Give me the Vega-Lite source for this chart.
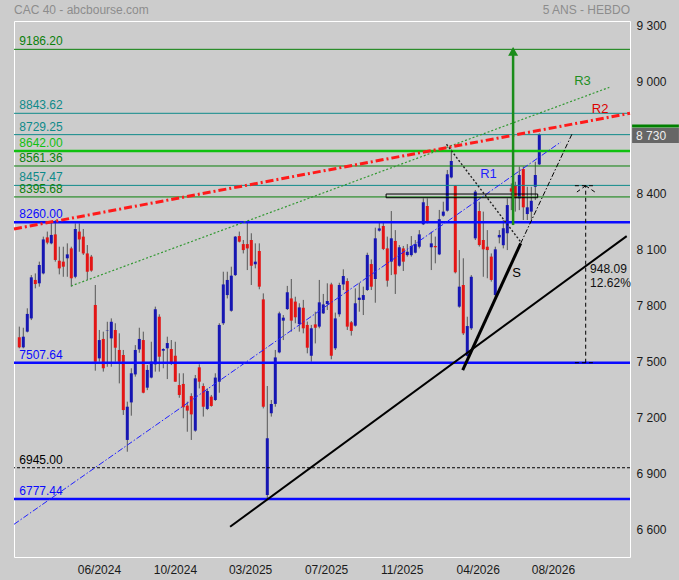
{
"$schema":"https://vega.github.io/schema/vega-lite/v6.json",
"width":616,"height":536,
"autosize":{"type":"none"},
"padding":{"left":14,"top":21,"right":49,"bottom":23},
"background":"#cccccc",
"config":{"view":{"stroke":"#ffffff","strokeWidth":1,"fill":"#cccccc"},"font":"Liberation Sans","text":{"font":"Liberation Sans"},
"scale":{"continuousPadding":0},
"axis":{"grid":false,"ticks":false,"domain":false,"labelFont":"Liberation Sans","labelFontSize":12,"labelColor":"#1a1a1a"}},
"resolve":{"scale":{"color":"independent"}},
"datasets":{
"candles":[
{"i":0,"o":7644,"h":7701,"l":7585,"c":7590},{"i":1,"o":7590,"h":7695,"l":7585,"c":7647},{"i":2,"o":7674,"h":7799,"l":7670,"c":7769},{"i":3,"o":7745,"h":7977,"l":7736,"c":7965},{"i":4,"o":7951,"h":7986,"l":7906,"c":7929},{"i":5,"o":7933,"h":8049,"l":7915,"c":8031},{"i":6,"o":7986,"h":8183,"l":7981,"c":8168},{"i":7,"o":8179,"h":8210,"l":8142,"c":8151},{"i":8,"o":8147,"h":8260,"l":8142,"c":8192},{"i":9,"o":8195,"h":8272,"l":8049,"c":8058},
{"i":10,"o":8054,"h":8129,"l":7981,"c":8013},{"i":11,"o":8049,"h":8129,"l":7968,"c":8022},{"i":12,"o":8067,"h":8147,"l":7968,"c":8088},{"i":13,"o":8120,"h":8129,"l":7915,"c":7960},{"i":14,"o":7968,"h":8254,"l":7960,"c":8224},{"i":15,"o":8210,"h":8254,"l":8102,"c":8168},{"i":16,"o":8183,"h":8224,"l":8085,"c":8093},{"i":17,"o":8093,"h":8138,"l":7951,"c":7995},{"i":18,"o":8076,"h":8085,"l":7995,"c":8001},{"i":19,"o":7817,"h":7924,"l":7465,"c":7513},
{"i":20,"o":7531,"h":7683,"l":7513,"c":7629},{"i":21,"o":7635,"h":7674,"l":7460,"c":7478},{"i":22,"o":7679,"h":7727,"l":7486,"c":7681},{"i":23,"o":7638,"h":7745,"l":7486,"c":7727},{"i":24,"o":7683,"h":7719,"l":7513,"c":7588},{"i":25,"o":7576,"h":7665,"l":7397,"c":7513},{"i":26,"o":7549,"h":7576,"l":7228,"c":7254},{"i":27,"o":7094,"h":7299,"l":7031,"c":7272},{"i":28,"o":7295,"h":7478,"l":7224,"c":7451},{"i":29,"o":7445,"h":7602,"l":7433,"c":7576},
{"i":30,"o":7579,"h":7695,"l":7561,"c":7635},{"i":31,"o":7629,"h":7674,"l":7344,"c":7347},{"i":32,"o":7374,"h":7495,"l":7361,"c":7469},{"i":33,"o":7428,"h":7620,"l":7424,"c":7513},{"i":34,"o":7499,"h":7808,"l":7460,"c":7794},{"i":35,"o":7754,"h":7767,"l":7460,"c":7540},{"i":36,"o":7572,"h":7585,"l":7478,"c":7581},{"i":37,"o":7585,"h":7647,"l":7420,"c":7613},{"i":38,"o":7581,"h":7629,"l":7495,"c":7504},{"i":39,"o":7545,"h":7620,"l":7406,"c":7406},
{"i":40,"o":7388,"h":7451,"l":7320,"c":7335},{"i":41,"o":7394,"h":7451,"l":7210,"c":7269},{"i":42,"o":7278,"h":7299,"l":7138,"c":7251},{"i":43,"o":7329,"h":7344,"l":7094,"c":7231},{"i":44,"o":7144,"h":7442,"l":7138,"c":7424},{"i":45,"o":7483,"h":7499,"l":7370,"c":7406},{"i":46,"o":7383,"h":7397,"l":7219,"c":7272},{"i":47,"o":7260,"h":7370,"l":7254,"c":7356},{"i":48,"o":7326,"h":7335,"l":7272,"c":7276},{"i":49,"o":7308,"h":7451,"l":7303,"c":7428},
{"i":50,"o":7406,"h":7719,"l":7347,"c":7710},{"i":51,"o":7719,"h":7995,"l":7710,"c":7927},{"i":52,"o":7870,"h":7995,"l":7852,"c":7951},{"i":53,"o":7786,"h":8022,"l":7781,"c":7974},{"i":54,"o":7977,"h":8186,"l":7972,"c":8183},{"i":55,"o":8186,"h":8210,"l":8152,"c":8156},{"i":56,"o":8143,"h":8165,"l":8093,"c":8111},{"i":57,"o":8143,"h":8263,"l":8004,"c":8120},{"i":58,"o":8165,"h":8201,"l":7924,"c":8027},{"i":59,"o":8035,"h":8147,"l":8013,"c":8049},
{"i":60,"o":8106,"h":8147,"l":7901,"c":7915},{"i":61,"o":7847,"h":7879,"l":7263,"c":7272},{"i":62,"o":6799,"h":7383,"l":6780,"c":7103},{"i":63,"o":7237,"h":7308,"l":7219,"c":7287},{"i":64,"o":7287,"h":7576,"l":7272,"c":7536},{"i":65,"o":7563,"h":7781,"l":7558,"c":7772},{"i":66,"o":7733,"h":7763,"l":7629,"c":7749},{"i":67,"o":7795,"h":7919,"l":7790,"c":7885},{"i":68,"o":7852,"h":7956,"l":7674,"c":7733},{"i":69,"o":7835,"h":7861,"l":7719,"c":7751},
{"i":70,"o":7715,"h":7826,"l":7674,"c":7804},{"i":71,"o":7802,"h":7844,"l":7665,"c":7692},{"i":72,"o":7710,"h":7728,"l":7558,"c":7588},{"i":73,"o":7545,"h":7710,"l":7513,"c":7692},{"i":74,"o":7713,"h":7781,"l":7611,"c":7695},{"i":75,"o":7701,"h":7951,"l":7692,"c":7831},{"i":76,"o":7772,"h":7876,"l":7769,"c":7820},{"i":77,"o":7822,"h":7933,"l":7790,"c":7838},{"i":78,"o":7927,"h":7936,"l":7526,"c":7545},{"i":79,"o":7585,"h":7776,"l":7576,"c":7745},
{"i":80,"o":7767,"h":7936,"l":7754,"c":7924},{"i":81,"o":7927,"h":8008,"l":7897,"c":7972},{"i":82,"o":7945,"h":7960,"l":7683,"c":7701},{"i":83,"o":7724,"h":7731,"l":7653,"c":7678},{"i":84,"o":7706,"h":7906,"l":7701,"c":7826},{"i":85,"o":7844,"h":7936,"l":7781,"c":7856},{"i":86,"o":7844,"h":7915,"l":7763,"c":7870},{"i":87,"o":7897,"h":8097,"l":7892,"c":8085},{"i":88,"o":8036,"h":8061,"l":7897,"c":7915},{"i":89,"o":7956,"h":8231,"l":7829,"c":8174},
{"i":90,"o":8215,"h":8263,"l":8210,"c":8227},{"i":91,"o":8240,"h":8263,"l":8111,"c":8117},{"i":92,"o":8120,"h":8183,"l":7915,"c":7947},{"i":93,"o":8049,"h":8320,"l":7977,"c":8174},{"i":94,"o":8160,"h":8218,"l":7876,"c":7981},{"i":95,"o":8027,"h":8138,"l":8022,"c":8126},{"i":96,"o":8120,"h":8133,"l":7999,"c":8049},{"i":97,"o":8084,"h":8143,"l":8076,"c":8102},{"i":98,"o":8084,"h":8186,"l":8076,"c":8133},{"i":99,"o":8097,"h":8165,"l":8093,"c":8143},
{"i":100,"o":8129,"h":8218,"l":8120,"c":8195},{"i":101,"o":8249,"h":8388,"l":8245,"c":8367},{"i":102,"o":8347,"h":8388,"l":8254,"c":8267},{"i":103,"o":8126,"h":8209,"l":8004,"c":8147},{"i":104,"o":8133,"h":8183,"l":8040,"c":8126},{"i":105,"o":8088,"h":8326,"l":8084,"c":8276},{"i":106,"o":8295,"h":8370,"l":8290,"c":8317},{"i":107,"o":8322,"h":8540,"l":8317,"c":8517},{"i":108,"o":8500,"h":8650,"l":8495,"c":8588},{"i":109,"o":8456,"h":8459,"l":7986,"c":7992},
{"i":110,"o":7808,"h":8111,"l":7802,"c":7915},{"i":111,"o":7924,"h":8067,"l":7656,"c":7665},{"i":112,"o":7544,"h":7754,"l":7540,"c":7704},{"i":113,"o":7692,"h":7977,"l":7683,"c":7968},{"i":114,"o":8174,"h":8433,"l":8165,"c":8424},{"i":115,"o":8320,"h":8370,"l":8130,"c":8138},{"i":116,"o":8165,"h":8317,"l":7968,"c":8115},{"i":117,"o":8129,"h":8218,"l":7960,"c":8111},{"i":118,"o":8076,"h":8093,"l":7942,"c":7951},{"i":119,"o":7870,"h":8129,"l":7861,"c":8115},
{"i":120,"o":8179,"h":8218,"l":8147,"c":8192},{"i":121,"o":8137,"h":8272,"l":8120,"c":8228},{"i":122,"o":8201,"h":8388,"l":8111,"c":8352},{"i":123,"o":8442,"h":8468,"l":8325,"c":8424},{"i":124,"o":8459,"h":8477,"l":8317,"c":8389},{"i":125,"o":8388,"h":8558,"l":8325,"c":8513},{"i":126,"o":8545,"h":8558,"l":8272,"c":8340},{"i":127,"o":8304,"h":8450,"l":8272,"c":8340},{"i":128,"o":8317,"h":8450,"l":8272,"c":8375},{"i":129,"o":8450,"h":8584,"l":8379,"c":8513},
{"i":130,"o":8570,"h":8736,"l":8567,"c":8730}
],
"levels":[
{"v":9186.2,"label":"9186.20","kind":"g"},{"v":8843.62,"label":"8843.62","kind":"t"},{"v":8729.25,"label":"8729.25","kind":"t"},{"v":8642,"label":"8642.00","kind":"lg"},{"v":8561.36,"label":"8561.36","kind":"g"},{"v":8457.47,"label":"8457.47","kind":"t"},{"v":8395.68,"label":"8395.68","kind":"g"},{"v":8260,"label":"8260.00","kind":"b"},{"v":7507.64,"label":"7507.64","kind":"b"},{"v":6945,"label":"6945.00","kind":"k"},{"v":6777.44,"label":"6777.44","kind":"b"}
],
"trends":[
{"name":"R2","i":-1.325,"v":8224,"i2":152.675,"v2":8843.6},
{"name":"R3","i":12.93,"v":7918.5,"i2":147.5,"v2":8982.7},
{"name":"R1","i":-1.325,"v":6642,"i2":135.4,"v2":8690},
{"name":"S","i":110.85,"v":7468.5,"i2":125.35,"v2":8147},
{"name":"LT","i":52.7,"v":6629,"i2":151.85,"v2":8186},
{"name":"DD","i":125.35,"v":8147,"i2":138.25,"v2":8736},
{"name":"DT","i":106.8,"v":8678,"i2":125.55,"v2":8149}
],
"measure":[
{"i":141.6,"v":7507.64,"i2":141.6,"v2":8455.73},
{"i":138.9,"v":8455.73,"i2":143.9,"v2":8455.73},
{"i":138.9,"v":7507.64,"i2":143.9,"v2":7507.64},
{"i":141.6,"v":8455.73,"i2":139.4,"v2":8422},
{"i":141.6,"v":8455.73,"i2":143.9,"v2":8422}
],
"mtext":[{"i":142.7,"v":8012,"t":"948.09"},{"i":142.7,"v":7934,"t":"12.62%"}],
"tlabels":[{"name":"R1","i":117.3,"v":8518},{"name":"R2","i":145.2,"v":8866},{"name":"R3","i":140.8,"v":9014},{"name":"S","i":124.3,"v":7988}],
"arrow":[{"i":123.45,"v":8245,"v2":9175}],
"box":[{"i":91.7,"i2":129.6,"v":8391.4,"v2":8411.2}],
"last":[{"i":153.2,"i2":164.9,"v":8684.4,"v2":8764.7,"g":8767,"g2":8783.5,"ti":154.2,"tv":8724,"t":"8 730"}],
"heads":[{"i":-1.325,"v":9338,"t":"CAC 40 - abcbourse.com","a":"l"},{"i":152.675,"v":9338,"t":"5 ANS - HEBDO","a":"r"}]
},
"layer":[
{"data":{"name":"candles"},"mark":{"type":"rule","color":"#555555","strokeWidth":1},
"encoding":{
"x":{"field":"i","type":"quantitative","title":null,"scale":{"domain":[-1.325,152.675],"nice":false,"zero":false,"padding":0},"axis":{"orient":"bottom","title":null,"values":[19.9,38.9,57.7,76.7,95.6,114.6,133.4],"labelExpr":"['06/2024','10/2024','03/2025','07/2025','11/2025','04/2026','08/2026'][round((datum.value-19.9)/18.92)]","labelPadding":7,"labelFlush":false}},
"y":{"field":"l","type":"quantitative","title":null,"scale":{"domain":[6467,9338],"nice":false,"zero":false,"padding":0},"axis":{"orient":"right","title":null,"values":[6600,6900,7200,7500,7800,8100,8400,9000,9300],"labelExpr":"replace(format(datum.value, ','), ',', ' ')","labelPadding":6,"labelOffset":-2.5}},
"y2":{"field":"h"}}},
{"data":{"name":"candles"},"mark":{"type":"bar","size":3},
"encoding":{
"x":{"field":"i","type":"quantitative","title":null,"scale":{"domain":[-1.325,152.675],"nice":false,"zero":false,"padding":0},"axis":{"orient":"bottom","title":null,"values":[19.9,38.9,57.7,76.7,95.6,114.6,133.4],"labelExpr":"['06/2024','10/2024','03/2025','07/2025','11/2025','04/2026','08/2026'][round((datum.value-19.9)/18.92)]","labelPadding":7,"labelFlush":false}},
"y":{"field":"o","type":"quantitative","title":null,"scale":{"domain":[6467,9338],"nice":false,"zero":false,"padding":0},"axis":{"orient":"right","title":null,"values":[6600,6900,7200,7500,7800,8100,8400,9000,9300],"labelExpr":"replace(format(datum.value, ','), ',', ' ')","labelPadding":6,"labelOffset":-2.5}},
"y2":{"field":"c"},
"color":{"condition":{"test":"datum.c >= datum.o","value":"#1616b2"},"value":"#e31515"}}},
{"data":{"name":"levels"},"transform":[{"filter":"datum.kind == 'g' || datum.kind == 't'"}],"mark":{"type":"rule","strokeWidth":1},
"encoding":{"y":{"field":"v","type":"quantitative","title":null,"scale":{"domain":[6467,9338],"nice":false,"zero":false,"padding":0},"axis":{"orient":"right","title":null,"values":[6600,6900,7200,7500,7800,8100,8400,9000,9300],"labelExpr":"replace(format(datum.value, ','), ',', ' ')","labelPadding":6,"labelOffset":-2.5}},
"color":{"field":"kind","type":"nominal","scale":{"domain":["g","t","lg","b","k"],"range":["#0a800a","#0e8a8a","#10c010","#0a0aff","#000000"]},"legend":null}}},
{"data":{"name":"levels"},"transform":[{"filter":"datum.kind == 'lg' || datum.kind == 'b'"}],"mark":{"type":"rule","strokeWidth":2.5},
"encoding":{"y":{"field":"v","type":"quantitative","title":null,"scale":{"domain":[6467,9338],"nice":false,"zero":false,"padding":0},"axis":{"orient":"right","title":null,"values":[6600,6900,7200,7500,7800,8100,8400,9000,9300],"labelExpr":"replace(format(datum.value, ','), ',', ' ')","labelPadding":6,"labelOffset":-2.5}},
"color":{"field":"kind","type":"nominal","scale":{"domain":["g","t","lg","b","k"],"range":["#0a800a","#0e8a8a","#10c010","#0a0aff","#000000"]},"legend":null}}},
{"data":{"name":"levels"},"transform":[{"filter":"datum.kind == 'k'"}],"mark":{"type":"rule","strokeWidth":1,"strokeDash":[3,2],"color":"#000000"},
"encoding":{"y":{"field":"v","type":"quantitative","title":null,"scale":{"domain":[6467,9338],"nice":false,"zero":false,"padding":0},"axis":{"orient":"right","title":null,"values":[6600,6900,7200,7500,7800,8100,8400,9000,9300],"labelExpr":"replace(format(datum.value, ','), ',', ' ')","labelPadding":6,"labelOffset":-2.5}}}},
{"data":{"name":"trends"},"transform":[{"filter":"datum.name == 'R3'"}],"mark":{"type":"rule","strokeWidth":1.2,"strokeDash":[2,2],"color":"#339933"},
"encoding":{"x":{"field":"i","type":"quantitative","title":null,"scale":{"domain":[-1.325,152.675],"nice":false,"zero":false,"padding":0},"axis":{"orient":"bottom","title":null,"values":[19.9,38.9,57.7,76.7,95.6,114.6,133.4],"labelExpr":"['06/2024','10/2024','03/2025','07/2025','11/2025','04/2026','08/2026'][round((datum.value-19.9)/18.92)]","labelPadding":7,"labelFlush":false}},"y":{"field":"v","type":"quantitative","title":null,"scale":{"domain":[6467,9338],"nice":false,"zero":false,"padding":0},"axis":{"orient":"right","title":null,"values":[6600,6900,7200,7500,7800,8100,8400,9000,9300],"labelExpr":"replace(format(datum.value, ','), ',', ' ')","labelPadding":6,"labelOffset":-2.5}},"x2":{"field":"i2"},"y2":{"field":"v2"}}},
{"data":{"name":"trends"},"transform":[{"filter":"datum.name == 'R1'"}],"mark":{"type":"rule","strokeWidth":1,"strokeDash":[6,2,1.5,2],"color":"#2020ff"},
"encoding":{"x":{"field":"i","type":"quantitative","title":null,"scale":{"domain":[-1.325,152.675],"nice":false,"zero":false,"padding":0},"axis":{"orient":"bottom","title":null,"values":[19.9,38.9,57.7,76.7,95.6,114.6,133.4],"labelExpr":"['06/2024','10/2024','03/2025','07/2025','11/2025','04/2026','08/2026'][round((datum.value-19.9)/18.92)]","labelPadding":7,"labelFlush":false}},"y":{"field":"v","type":"quantitative","title":null,"scale":{"domain":[6467,9338],"nice":false,"zero":false,"padding":0},"axis":{"orient":"right","title":null,"values":[6600,6900,7200,7500,7800,8100,8400,9000,9300],"labelExpr":"replace(format(datum.value, ','), ',', ' ')","labelPadding":6,"labelOffset":-2.5}},"x2":{"field":"i2"},"y2":{"field":"v2"}}},
{"data":{"name":"trends"},"transform":[{"filter":"datum.name == 'R2'"}],"mark":{"type":"rule","strokeWidth":3,"strokeDash":[8,3,2,3],"color":"#ff1a1a"},
"encoding":{"x":{"field":"i","type":"quantitative","title":null,"scale":{"domain":[-1.325,152.675],"nice":false,"zero":false,"padding":0},"axis":{"orient":"bottom","title":null,"values":[19.9,38.9,57.7,76.7,95.6,114.6,133.4],"labelExpr":"['06/2024','10/2024','03/2025','07/2025','11/2025','04/2026','08/2026'][round((datum.value-19.9)/18.92)]","labelPadding":7,"labelFlush":false}},"y":{"field":"v","type":"quantitative","title":null,"scale":{"domain":[6467,9338],"nice":false,"zero":false,"padding":0},"axis":{"orient":"right","title":null,"values":[6600,6900,7200,7500,7800,8100,8400,9000,9300],"labelExpr":"replace(format(datum.value, ','), ',', ' ')","labelPadding":6,"labelOffset":-2.5}},"x2":{"field":"i2"},"y2":{"field":"v2"}}},
{"data":{"name":"trends"},"transform":[{"filter":"datum.name == 'S'"}],"mark":{"type":"rule","strokeWidth":3,"color":"#000000"},
"encoding":{"x":{"field":"i","type":"quantitative","title":null,"scale":{"domain":[-1.325,152.675],"nice":false,"zero":false,"padding":0},"axis":{"orient":"bottom","title":null,"values":[19.9,38.9,57.7,76.7,95.6,114.6,133.4],"labelExpr":"['06/2024','10/2024','03/2025','07/2025','11/2025','04/2026','08/2026'][round((datum.value-19.9)/18.92)]","labelPadding":7,"labelFlush":false}},"y":{"field":"v","type":"quantitative","title":null,"scale":{"domain":[6467,9338],"nice":false,"zero":false,"padding":0},"axis":{"orient":"right","title":null,"values":[6600,6900,7200,7500,7800,8100,8400,9000,9300],"labelExpr":"replace(format(datum.value, ','), ',', ' ')","labelPadding":6,"labelOffset":-2.5}},"x2":{"field":"i2"},"y2":{"field":"v2"}}},
{"data":{"name":"trends"},"transform":[{"filter":"datum.name == 'LT'"}],"mark":{"type":"rule","strokeWidth":2,"color":"#000000"},
"encoding":{"x":{"field":"i","type":"quantitative","title":null,"scale":{"domain":[-1.325,152.675],"nice":false,"zero":false,"padding":0},"axis":{"orient":"bottom","title":null,"values":[19.9,38.9,57.7,76.7,95.6,114.6,133.4],"labelExpr":"['06/2024','10/2024','03/2025','07/2025','11/2025','04/2026','08/2026'][round((datum.value-19.9)/18.92)]","labelPadding":7,"labelFlush":false}},"y":{"field":"v","type":"quantitative","title":null,"scale":{"domain":[6467,9338],"nice":false,"zero":false,"padding":0},"axis":{"orient":"right","title":null,"values":[6600,6900,7200,7500,7800,8100,8400,9000,9300],"labelExpr":"replace(format(datum.value, ','), ',', ' ')","labelPadding":6,"labelOffset":-2.5}},"x2":{"field":"i2"},"y2":{"field":"v2"}}},
{"data":{"name":"trends"},"transform":[{"filter":"datum.name == 'DD'"}],"mark":{"type":"rule","strokeWidth":1,"strokeDash":[5,2,1.5,2],"color":"#000000"},
"encoding":{"x":{"field":"i","type":"quantitative","title":null,"scale":{"domain":[-1.325,152.675],"nice":false,"zero":false,"padding":0},"axis":{"orient":"bottom","title":null,"values":[19.9,38.9,57.7,76.7,95.6,114.6,133.4],"labelExpr":"['06/2024','10/2024','03/2025','07/2025','11/2025','04/2026','08/2026'][round((datum.value-19.9)/18.92)]","labelPadding":7,"labelFlush":false}},"y":{"field":"v","type":"quantitative","title":null,"scale":{"domain":[6467,9338],"nice":false,"zero":false,"padding":0},"axis":{"orient":"right","title":null,"values":[6600,6900,7200,7500,7800,8100,8400,9000,9300],"labelExpr":"replace(format(datum.value, ','), ',', ' ')","labelPadding":6,"labelOffset":-2.5}},"x2":{"field":"i2"},"y2":{"field":"v2"}}},
{"data":{"name":"trends"},"transform":[{"filter":"datum.name == 'DT'"}],"mark":{"type":"rule","strokeWidth":1.4,"strokeDash":[2,2],"color":"#222222"},
"encoding":{"x":{"field":"i","type":"quantitative","title":null,"scale":{"domain":[-1.325,152.675],"nice":false,"zero":false,"padding":0},"axis":{"orient":"bottom","title":null,"values":[19.9,38.9,57.7,76.7,95.6,114.6,133.4],"labelExpr":"['06/2024','10/2024','03/2025','07/2025','11/2025','04/2026','08/2026'][round((datum.value-19.9)/18.92)]","labelPadding":7,"labelFlush":false}},"y":{"field":"v","type":"quantitative","title":null,"scale":{"domain":[6467,9338],"nice":false,"zero":false,"padding":0},"axis":{"orient":"right","title":null,"values":[6600,6900,7200,7500,7800,8100,8400,9000,9300],"labelExpr":"replace(format(datum.value, ','), ',', ' ')","labelPadding":6,"labelOffset":-2.5}},"x2":{"field":"i2"},"y2":{"field":"v2"}}},
{"data":{"name":"box"},"mark":{"type":"rect","fill":null,"fillOpacity":0,"stroke":"#000000","strokeWidth":1},
"encoding":{"x":{"field":"i","type":"quantitative","title":null,"scale":{"domain":[-1.325,152.675],"nice":false,"zero":false,"padding":0},"axis":{"orient":"bottom","title":null,"values":[19.9,38.9,57.7,76.7,95.6,114.6,133.4],"labelExpr":"['06/2024','10/2024','03/2025','07/2025','11/2025','04/2026','08/2026'][round((datum.value-19.9)/18.92)]","labelPadding":7,"labelFlush":false}},"x2":{"field":"i2"},"y":{"field":"v","type":"quantitative","title":null,"scale":{"domain":[6467,9338],"nice":false,"zero":false,"padding":0},"axis":{"orient":"right","title":null,"values":[6600,6900,7200,7500,7800,8100,8400,9000,9300],"labelExpr":"replace(format(datum.value, ','), ',', ' ')","labelPadding":6,"labelOffset":-2.5}},"y2":{"field":"v2"}}},
{"data":{"name":"arrow"},"mark":{"type":"rule","strokeWidth":2.5,"color":"#1a8c1a"},
"encoding":{"x":{"field":"i","type":"quantitative","title":null,"scale":{"domain":[-1.325,152.675],"nice":false,"zero":false,"padding":0},"axis":{"orient":"bottom","title":null,"values":[19.9,38.9,57.7,76.7,95.6,114.6,133.4],"labelExpr":"['06/2024','10/2024','03/2025','07/2025','11/2025','04/2026','08/2026'][round((datum.value-19.9)/18.92)]","labelPadding":7,"labelFlush":false}},"y":{"field":"v","type":"quantitative","title":null,"scale":{"domain":[6467,9338],"nice":false,"zero":false,"padding":0},"axis":{"orient":"right","title":null,"values":[6600,6900,7200,7500,7800,8100,8400,9000,9300],"labelExpr":"replace(format(datum.value, ','), ',', ' ')","labelPadding":6,"labelOffset":-2.5}},"y2":{"field":"v2"}}},
{"data":{"name":"arrow"},"mark":{"type":"point","shape":"triangle-up","size":100,"filled":true,"color":"#1a8c1a","opacity":1},
"encoding":{"x":{"field":"i","type":"quantitative","title":null,"scale":{"domain":[-1.325,152.675],"nice":false,"zero":false,"padding":0},"axis":{"orient":"bottom","title":null,"values":[19.9,38.9,57.7,76.7,95.6,114.6,133.4],"labelExpr":"['06/2024','10/2024','03/2025','07/2025','11/2025','04/2026','08/2026'][round((datum.value-19.9)/18.92)]","labelPadding":7,"labelFlush":false}},"y":{"field":"v2","type":"quantitative","title":null,"scale":{"domain":[6467,9338],"nice":false,"zero":false,"padding":0},"axis":{"orient":"right","title":null,"values":[6600,6900,7200,7500,7800,8100,8400,9000,9300],"labelExpr":"replace(format(datum.value, ','), ',', ' ')","labelPadding":6,"labelOffset":-2.5}}}},
{"data":{"name":"measure"},"mark":{"type":"rule","strokeWidth":1,"strokeDash":[4,3],"color":"#000000"},
"encoding":{"x":{"field":"i","type":"quantitative","title":null,"scale":{"domain":[-1.325,152.675],"nice":false,"zero":false,"padding":0},"axis":{"orient":"bottom","title":null,"values":[19.9,38.9,57.7,76.7,95.6,114.6,133.4],"labelExpr":"['06/2024','10/2024','03/2025','07/2025','11/2025','04/2026','08/2026'][round((datum.value-19.9)/18.92)]","labelPadding":7,"labelFlush":false}},"y":{"field":"v","type":"quantitative","title":null,"scale":{"domain":[6467,9338],"nice":false,"zero":false,"padding":0},"axis":{"orient":"right","title":null,"values":[6600,6900,7200,7500,7800,8100,8400,9000,9300],"labelExpr":"replace(format(datum.value, ','), ',', ' ')","labelPadding":6,"labelOffset":-2.5}},"x2":{"field":"i2"},"y2":{"field":"v2"}}},
{"data":{"name":"mtext"},"mark":{"type":"text","align":"left","baseline":"middle","fontSize":12,"color":"#111111"},
"encoding":{"x":{"field":"i","type":"quantitative","title":null,"scale":{"domain":[-1.325,152.675],"nice":false,"zero":false,"padding":0},"axis":{"orient":"bottom","title":null,"values":[19.9,38.9,57.7,76.7,95.6,114.6,133.4],"labelExpr":"['06/2024','10/2024','03/2025','07/2025','11/2025','04/2026','08/2026'][round((datum.value-19.9)/18.92)]","labelPadding":7,"labelFlush":false}},"y":{"field":"v","type":"quantitative","title":null,"scale":{"domain":[6467,9338],"nice":false,"zero":false,"padding":0},"axis":{"orient":"right","title":null,"values":[6600,6900,7200,7500,7800,8100,8400,9000,9300],"labelExpr":"replace(format(datum.value, ','), ',', ' ')","labelPadding":6,"labelOffset":-2.5}},"text":{"field":"t"}}},
{"data":{"name":"levels"},"mark":{"type":"text","align":"left","baseline":"alphabetic","dy":-4,"fontSize":12},
"encoding":{"x":{"datum":0,"type":"quantitative","title":null,"scale":{"domain":[-1.325,152.675],"nice":false,"zero":false,"padding":0},"axis":{"orient":"bottom","title":null,"values":[19.9,38.9,57.7,76.7,95.6,114.6,133.4],"labelExpr":"['06/2024','10/2024','03/2025','07/2025','11/2025','04/2026','08/2026'][round((datum.value-19.9)/18.92)]","labelPadding":7,"labelFlush":false}},"y":{"field":"v","type":"quantitative","title":null,"scale":{"domain":[6467,9338],"nice":false,"zero":false,"padding":0},"axis":{"orient":"right","title":null,"values":[6600,6900,7200,7500,7800,8100,8400,9000,9300],"labelExpr":"replace(format(datum.value, ','), ',', ' ')","labelPadding":6,"labelOffset":-2.5}},"text":{"field":"label"},
"color":{"field":"kind","type":"nominal","scale":{"domain":["g","t","lg","b","k"],"range":["#0a800a","#0e8a8a","#10c010","#0a0aff","#000000"]},"legend":null}}},
{"data":{"name":"tlabels"},"mark":{"type":"text","align":"center","baseline":"middle","fontSize":13},
"encoding":{"x":{"field":"i","type":"quantitative","title":null,"scale":{"domain":[-1.325,152.675],"nice":false,"zero":false,"padding":0},"axis":{"orient":"bottom","title":null,"values":[19.9,38.9,57.7,76.7,95.6,114.6,133.4],"labelExpr":"['06/2024','10/2024','03/2025','07/2025','11/2025','04/2026','08/2026'][round((datum.value-19.9)/18.92)]","labelPadding":7,"labelFlush":false}},"y":{"field":"v","type":"quantitative","title":null,"scale":{"domain":[6467,9338],"nice":false,"zero":false,"padding":0},"axis":{"orient":"right","title":null,"values":[6600,6900,7200,7500,7800,8100,8400,9000,9300],"labelExpr":"replace(format(datum.value, ','), ',', ' ')","labelPadding":6,"labelOffset":-2.5}},"text":{"field":"name"},
"color":{"field":"name","type":"nominal","scale":{"domain":["R1","R2","R3","S"],"range":["#1f1fff","#dd0000","#1f8f1f","#000000"]},"legend":null}}},
{"data":{"name":"last"},"mark":{"type":"rect","fill":"#666666"},
"encoding":{"x":{"field":"i","type":"quantitative","title":null,"scale":{"domain":[-1.325,152.675],"nice":false,"zero":false,"padding":0},"axis":{"orient":"bottom","title":null,"values":[19.9,38.9,57.7,76.7,95.6,114.6,133.4],"labelExpr":"['06/2024','10/2024','03/2025','07/2025','11/2025','04/2026','08/2026'][round((datum.value-19.9)/18.92)]","labelPadding":7,"labelFlush":false}},"x2":{"field":"i2"},"y":{"field":"v","type":"quantitative","title":null,"scale":{"domain":[6467,9338],"nice":false,"zero":false,"padding":0},"axis":{"orient":"right","title":null,"values":[6600,6900,7200,7500,7800,8100,8400,9000,9300],"labelExpr":"replace(format(datum.value, ','), ',', ' ')","labelPadding":6,"labelOffset":-2.5}},"y2":{"field":"v2"}}},
{"data":{"name":"last"},"mark":{"type":"rect","fill":"#008000"},
"encoding":{"x":{"field":"i","type":"quantitative","title":null,"scale":{"domain":[-1.325,152.675],"nice":false,"zero":false,"padding":0},"axis":{"orient":"bottom","title":null,"values":[19.9,38.9,57.7,76.7,95.6,114.6,133.4],"labelExpr":"['06/2024','10/2024','03/2025','07/2025','11/2025','04/2026','08/2026'][round((datum.value-19.9)/18.92)]","labelPadding":7,"labelFlush":false}},"x2":{"field":"i2"},"y":{"field":"g","type":"quantitative","title":null,"scale":{"domain":[6467,9338],"nice":false,"zero":false,"padding":0},"axis":{"orient":"right","title":null,"values":[6600,6900,7200,7500,7800,8100,8400,9000,9300],"labelExpr":"replace(format(datum.value, ','), ',', ' ')","labelPadding":6,"labelOffset":-2.5}},"y2":{"field":"g2"}}},
{"data":{"name":"last"},"mark":{"type":"text","align":"left","baseline":"middle","fontSize":12,"color":"#eeeeee"},
"encoding":{"x":{"field":"ti","type":"quantitative","title":null,"scale":{"domain":[-1.325,152.675],"nice":false,"zero":false,"padding":0},"axis":{"orient":"bottom","title":null,"values":[19.9,38.9,57.7,76.7,95.6,114.6,133.4],"labelExpr":"['06/2024','10/2024','03/2025','07/2025','11/2025','04/2026','08/2026'][round((datum.value-19.9)/18.92)]","labelPadding":7,"labelFlush":false}},"y":{"field":"tv","type":"quantitative","title":null,"scale":{"domain":[6467,9338],"nice":false,"zero":false,"padding":0},"axis":{"orient":"right","title":null,"values":[6600,6900,7200,7500,7800,8100,8400,9000,9300],"labelExpr":"replace(format(datum.value, ','), ',', ' ')","labelPadding":6,"labelOffset":-2.5}},"text":{"field":"t"}}},
{"data":{"name":"heads"},"transform":[{"filter":"datum.a == 'l'"}],"mark":{"type":"text","align":"left","baseline":"alphabetic","dy":-7.5,"fontSize":12,"color":"#8c8c8c"},
"encoding":{"x":{"field":"i","type":"quantitative","title":null,"scale":{"domain":[-1.325,152.675],"nice":false,"zero":false,"padding":0},"axis":{"orient":"bottom","title":null,"values":[19.9,38.9,57.7,76.7,95.6,114.6,133.4],"labelExpr":"['06/2024','10/2024','03/2025','07/2025','11/2025','04/2026','08/2026'][round((datum.value-19.9)/18.92)]","labelPadding":7,"labelFlush":false}},"y":{"field":"v","type":"quantitative","title":null,"scale":{"domain":[6467,9338],"nice":false,"zero":false,"padding":0},"axis":{"orient":"right","title":null,"values":[6600,6900,7200,7500,7800,8100,8400,9000,9300],"labelExpr":"replace(format(datum.value, ','), ',', ' ')","labelPadding":6,"labelOffset":-2.5}},"text":{"field":"t"}}},
{"data":{"name":"heads"},"transform":[{"filter":"datum.a == 'r'"}],"mark":{"type":"text","align":"right","baseline":"alphabetic","dy":-7.5,"fontSize":12,"color":"#8c8c8c"},
"encoding":{"x":{"field":"i","type":"quantitative","title":null,"scale":{"domain":[-1.325,152.675],"nice":false,"zero":false,"padding":0},"axis":{"orient":"bottom","title":null,"values":[19.9,38.9,57.7,76.7,95.6,114.6,133.4],"labelExpr":"['06/2024','10/2024','03/2025','07/2025','11/2025','04/2026','08/2026'][round((datum.value-19.9)/18.92)]","labelPadding":7,"labelFlush":false}},"y":{"field":"v","type":"quantitative","title":null,"scale":{"domain":[6467,9338],"nice":false,"zero":false,"padding":0},"axis":{"orient":"right","title":null,"values":[6600,6900,7200,7500,7800,8100,8400,9000,9300],"labelExpr":"replace(format(datum.value, ','), ',', ' ')","labelPadding":6,"labelOffset":-2.5}},"text":{"field":"t"}}}
]
}
